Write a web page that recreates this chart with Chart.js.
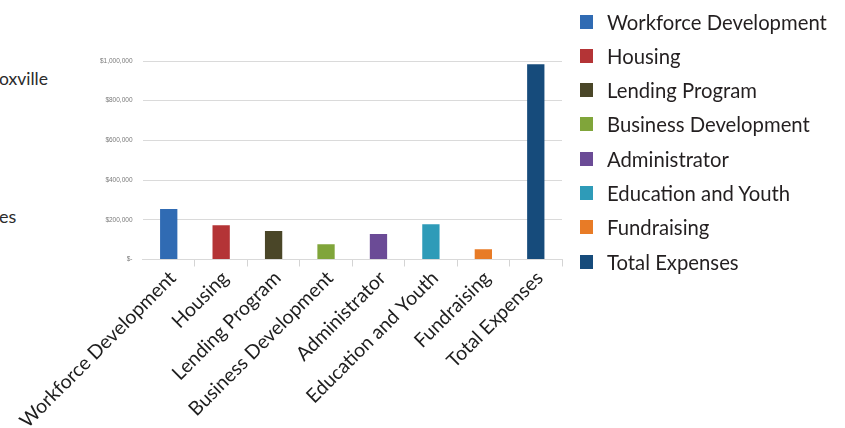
<!DOCTYPE html>
<html>
<head>
<meta charset="utf-8">
<script src="https://cdn.jsdelivr.net/npm/chart.js@4.4.1/dist/chart.umd.min.js"></script>
<style>
  html, body { margin: 0; padding: 0; background: #fff; }
  body { width: 845px; height: 428px; position: relative; overflow: hidden; font-family: Lato, sans-serif; }
  #wrap { position: absolute; left: 0; top: 0; width: 845px; height: 428px; }
  .side { position: absolute; color: #2b2b2b; font-family: Lato, sans-serif; white-space: nowrap; }
  #legend { position: absolute; left: 580px; top: 0; }
  .li { position: absolute; left: 0; height: 34px; display: flex; align-items: center; white-space: nowrap; }
  .sw { width: 13px; height: 14px; margin-right: 14px; }
  .lt { font-size: 20.3px; color: #231f20; font-family: Lato, sans-serif; }
</style>
</head>
<body>
<div class="side" style="left:-1px; top:68px; font-size:17.5px;">oxville</div>
<div class="side" style="left:-1px; top:205px; font-size:18px;">es</div>
<div id="wrap"><canvas id="c" width="845" height="428"></canvas></div>
<div id="legend"></div>
<script>
const categories = ["Workforce Development", "Housing", "Lending Program", "Business Development", "Administrator", "Education and Youth", "Fundraising", "Total Expenses"];
const expenses = [254000, 173000, 143000, 77000, 128000, 178000, 52000, 983000];
const barColors = ["#306bb3", "#b43436", "#4a4628", "#80a53a", "#6b4b96", "#2e9bb8", "#e87b26", "#164b7b"];
const yTicks = [0, 200000, 400000, 600000, 800000, 1000000];

function fmt(v) {
  if (v === 0) return "$-";
  return "$" + v.toString().replace(/\B(?=(\d{3})+(?!\d))/g, ",");
}

const legend = document.getElementById("legend");
categories.forEach((c, i) => {
  const row = document.createElement("div");
  row.className = "li";
  row.style.top = (21.5 + 34.3 * i - 17) + "px";
  const sw = document.createElement("div");
  sw.className = "sw";
  sw.style.background = barColors[i];
  const t = document.createElement("span");
  t.className = "lt";
  t.textContent = c;
  row.appendChild(sw); row.appendChild(t);
  legend.appendChild(row);
});

new Chart(document.getElementById("c"), {
  type: "bar",
  data: {
    labels: categories,
    datasets: [{
      data: expenses,
      backgroundColor: barColors,
      barPercentage: 0.33,
      categoryPercentage: 1.0
    }]
  },
  options: {
    responsive: false,
    animation: false,
    devicePixelRatio: 1,
    layout: { padding: { left: 0, right: 283, top: 61, bottom: 0 } },
    plugins: { legend: { display: false }, tooltip: { enabled: false } },
    scales: {
      x: {
        offset: true,
        grid: {
          offset: true,
          drawOnChartArea: false,
          drawTicks: true,
          tickLength: 7,
          color: (ctx) => (ctx.index === 0 || ctx.index === categories.length) ? "rgba(0,0,0,0)" : "#d4d4d4"
        },
        border: { display: true, color: "#d9d9d9", width: 1 },
        ticks: {
          autoSkip: false,
          maxRotation: 45,
          minRotation: 45,
          padding: 0,
          labelOffset: 4,
          color: "#1e1e1e",
          font: { family: "Lato", size: 19.5 }
        },
        afterFit: (s) => { s.height = 428 - 259.5; s.paddingLeft = 0; s.paddingRight = 0; }
      },
      y: {
        min: 0,
        max: 1000000,
        afterBuildTicks: (s) => { s.ticks = yTicks.map(v => ({ value: v })); },
        grid: { color: "#dadada", drawTicks: false, lineWidth: 1 },
        border: { display: false },
        ticks: {
          padding: 10,
          color: "#7a7a7a",
          font: { family: "Liberation Sans", size: 6.5 },
          callback: (v) => fmt(v)
        },
        afterFit: (s) => { s.width = 142.5; }
      }
    }
  }
});
</script>
</body>
</html>
